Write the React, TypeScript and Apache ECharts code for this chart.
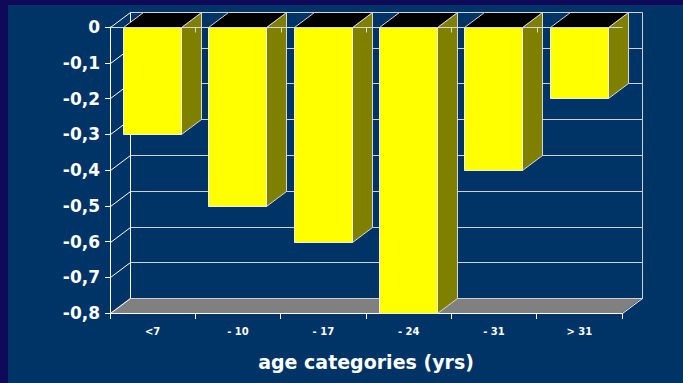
import React, { useEffect, useRef } from "react";
import * as echarts from "echarts";

// Age groups on the category axis and the value of each column
const categories = ["<7", "- 10", "- 17", "- 24", "- 31", "> 31"];
const values = [-0.3, -0.5, -0.6, -0.8, -0.4, -0.2];
// Gridline levels drawn on the back wall
const gridValues = [0, -0.1, -0.2, -0.3, -0.4, -0.5, -0.6, -0.7, -0.8];

const xAxisName = "age categories (yrs)";

// 3D depth offset of the box
const DX = 20;
const DY = 15;

const FONT = "'DejaVu Sans', sans-serif";
const NAVY = "#003366";
const BORDER = "#0e0958";

const px = (v: number) => Math.round(v) + 0.5;

const fmt = (v: number) =>
  Math.abs(v) < 1e-9 ? "0" : v.toFixed(1).replace(".", ",");

export default function App() {
  const ref = useRef<HTMLDivElement>(null);

  useEffect(() => {
    if (!ref.current) return;
    document.documentElement.style.background = NAVY;
    document.body.style.margin = "0";
    document.body.style.background = NAVY;
    const chart = echarts.init(ref.current, null, { renderer: "svg" });

    const line = (x1: number, y1: number, x2: number, y2: number, color: string) => ({
      type: "line",
      shape: { x1: px(x1), y1: px(y1), x2: px(x2), y2: px(y2) },
      style: { stroke: color, lineWidth: 1 },
      silent: true,
    });

    const option: any = {
      animation: false,
      backgroundColor: NAVY,
      graphic: [
        // slide frame: dark band along the left and top edges
        { type: "rect", shape: { x: 0, y: 0, width: 8, height: 383 }, style: { fill: BORDER }, z: 100 },
        { type: "rect", shape: { x: 0, y: 0, width: 683, height: 5 }, style: { fill: BORDER }, z: 100 },
      ],
      grid: { left: 110, right: 61, top: 27, bottom: 70, outerBoundsMode: "none" },
      xAxis: {
        type: "category",
        data: categories,
        boundaryGap: true,
        axisLine: { show: true, onZero: false, lineStyle: { color: "#ffffff", width: 1 } },
        axisTick: { show: true, length: 6, lineStyle: { color: "#ffffff" } },
        axisLabel: {
          color: "#ffffff",
          fontFamily: FONT,
          fontWeight: "bold",
          fontSize: 10,
          margin: 13,
        },
        splitLine: { show: false },
        name: xAxisName,
        nameLocation: "middle",
        nameGap: 39,
        nameTextStyle: {
          color: "#ffffff",
          fontFamily: FONT,
          fontWeight: "bold",
          fontSize: 19,
        },
      },
      yAxis: {
        type: "value",
        min: -0.8,
        max: 0,
        interval: 0.1,
        axisLine: { show: true, lineStyle: { color: "#ffffff", width: 1 } },
        axisTick: { show: true, length: 5, lineStyle: { color: "#ffffff" } },
        axisLabel: {
          color: "#ffffff",
          fontFamily: FONT,
          fontWeight: "bold",
          fontSize: 17,
          margin: 10,
          formatter: fmt,
        },
        splitLine: { show: false },
      },
      series: [
        {
          // back wall, left wall edges and floor
          type: "custom",
          z: 1,
          silent: true,
          data: [[0, 0]],
          renderItem: (params: any, api: any) => {
            const cs = params.coordSys;
            const x0 = cs.x;
            const x1 = cs.x + cs.width;
            const yTop = api.coord([0, gridValues[0]])[1];
            const yBot = api.coord([0, gridValues[gridValues.length - 1]])[1];
            const children: any[] = [
              {
                type: "polygon",
                shape: {
                  points: [
                    [x0, yBot],
                    [x0 + DX, yBot - DY],
                    [x1 + DX, yBot - DY],
                    [x1, yBot],
                  ],
                },
                style: { fill: "#808080" },
              },
            ];
            gridValues.forEach((v) => {
              const y = api.coord([0, v])[1];
              children.push(line(x0, y, x0 + DX, y - DY, "#ffffff"));
              children.push(line(x0 + DX, y - DY, x1 + DX, y - DY, "#d0d0d0"));
            });
            children.push(line(x0 + DX, yTop - DY, x0 + DX, yBot - DY, "#ffffff"));
            children.push(line(x1 + DX, yTop - DY, x1 + DX, yBot - DY, "#d0d0d0"));
            children.push(line(x1, yBot, x1 + DX, yBot - DY, "#ffffff"));
            return { type: "group", children };
          },
        },
        {
          // 3D columns: yellow front, black top, olive side
          type: "custom",
          z: 2,
          data: values.map((v, i) => [i, v]),
          renderItem: (_params: any, api: any) => {
            const i = api.value(0);
            const c0 = api.coord([i, 0]);
            const c1 = api.coord([i, api.value(1)]);
            const bw = api.size([1, 0])[0] * 0.68;
            const xL = Math.floor(c0[0] - bw / 2);
            const xR = Math.round(xL + bw);
            const yT = Math.round(c0[1]);
            const yB = Math.round(c1[1]);
            const edge = "#d8d8d8";
            return {
              type: "group",
              children: [
                {
                  type: "polygon",
                  shape: {
                    points: [
                      [xR + 0.5, yT + 0.5],
                      [xR + DX + 0.5, yT - DY + 0.5],
                      [xR + DX + 0.5, yB - DY + 0.5],
                      [xR + 0.5, yB + 0.5],
                    ],
                  },
                  style: { fill: "#808000", stroke: edge, lineWidth: 1 },
                },
                {
                  type: "polygon",
                  shape: {
                    points: [
                      [xL + 0.5, yT + 0.5],
                      [xL + DX + 0.5, yT - DY + 0.5],
                      [xR + DX + 0.5, yT - DY + 0.5],
                      [xR + 0.5, yT + 0.5],
                    ],
                  },
                  style: { fill: "#000000", stroke: edge, lineWidth: 1 },
                },
                {
                  type: "rect",
                  shape: { x: xL + 0.5, y: yT + 0.5, width: xR - xL, height: yB - yT },
                  style: { fill: "#ffff00", stroke: "#eeeeee", lineWidth: 1 },
                },
              ],
            };
          },
        },
        {
          // category axis crossing at zero, with its boundary ticks
          type: "custom",
          z: 3,
          silent: true,
          data: [[0, 0]],
          renderItem: (params: any, api: any) => {
            const cs = params.coordSys;
            const x0 = cs.x;
            const x1 = cs.x + cs.width;
            const y = api.coord([0, 0])[1];
            const step = cs.width / categories.length;
            const children: any[] = [line(x0, y, x1, y, "#d8d8d8")];
            for (let k = 1; k < categories.length; k++) {
              const x = x0 + step * k;
              children.push(line(x, y, x, y + 5, "#d8d8d8"));
            }
            return { type: "group", children };
          },
        },
      ],
    };

    chart.setOption(option);
    return () => chart.dispose();
  }, []);

  return (
    <div
      ref={ref}
      style={{ position: "fixed", left: 0, top: 0, width: 683, height: 383 }}
    />
  );
}
